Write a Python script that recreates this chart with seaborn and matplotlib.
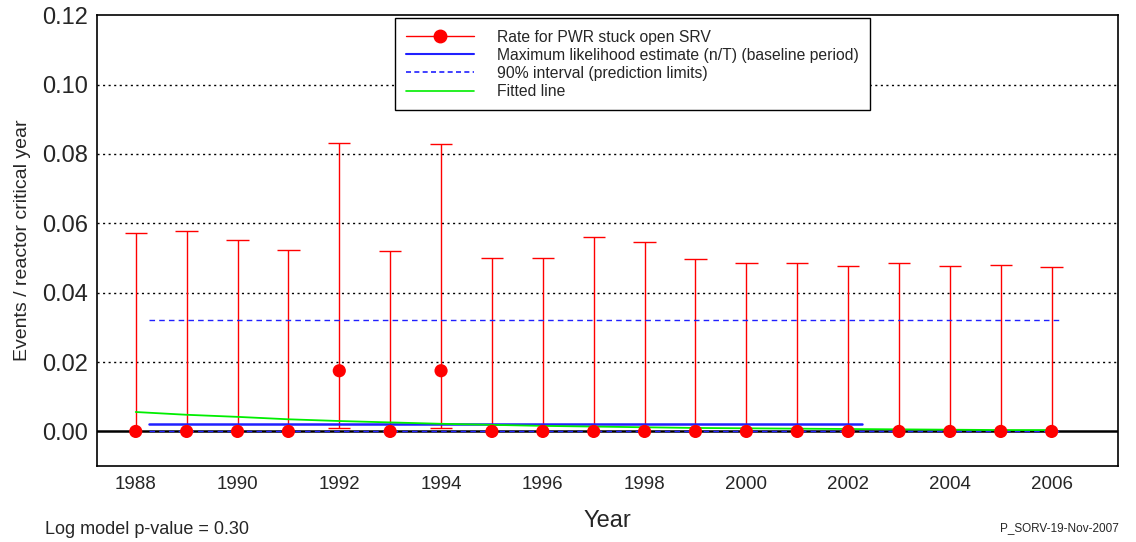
import numpy as np
import pandas as pd
import matplotlib
matplotlib.use("Agg")
import matplotlib.pyplot as plt
import seaborn as sns
from matplotlib.lines import Line2D

sns.set_style("white")
plt.rcParams['font.family'] = ['Liberation Sans', 'DejaVu Sans']

# data
years = list(range(1988, 2007))
rate = [0, 0, 0, 0, 0.0175, 0, 0.0175, 0, 0, 0, 0, 0, 0, 0, 0, 0, 0, 0, 0]
lower = [0, 0, 0, 0, 0.0011, 0, 0.0011, 0, 0, 0, 0, 0, 0, 0, 0, 0, 0, 0, 0]
upper = [0.0571, 0.0578, 0.0553, 0.0522, 0.0831, 0.0521, 0.0828, 0.0499, 0.0501,
         0.0561, 0.0545, 0.0497, 0.0485, 0.0485, 0.0477, 0.0485, 0.0477, 0.0480, 0.0475]
fitted = [0.0056, 0.0048, 0.0042, 0.0035, 0.0030, 0.0026, 0.0022, 0.0019, 0.0016,
          0.0014, 0.0012, 0.0010, 0.0009, 0.0008, 0.0007, 0.0006, 0.0005, 0.0004, 0.0004]
mle_x = [1988.27, 2002.27]
mle_y = [0.0022, 0.0022]
pred_x = [1988.27, 2006.2]
pred_upper = [0.0322, 0.0322]
pred_lower = [0.0, 0.0]

df = pd.DataFrame({"year": years, "rate": rate, "lower": lower, "upper": upper, "fitted": fitted})

fig, ax = plt.subplots(figsize=(11.36, 5.42), dpi=100)

# horizontal dotted grid
for yv in [0.02, 0.04, 0.06, 0.08, 0.10]:
    ax.axhline(yv, color='black', linestyle=(0, (1.5, 2.5)), linewidth=1, zorder=0)
ax.axhline(0, color='black', linewidth=1.8, zorder=1)

# error bars
ax.vlines(df["year"], df["lower"], df["upper"], color='red', linewidth=1, zorder=2)
cap = 0.22
ax.hlines(df["upper"], df["year"] - cap, df["year"] + cap, color='red', linewidth=1, zorder=2)
low_caps = df[df["lower"] > 0]
ax.hlines(low_caps["lower"], low_caps["year"] - cap, low_caps["year"] + cap, color='red', linewidth=1, zorder=2)

# reference lines
ax.plot(mle_x, mle_y, color='#2020ff', linewidth=1.8, zorder=3)
ax.plot(pred_x, pred_upper, color='#2020ff', linestyle=(0, (4, 3)), linewidth=1, zorder=3)
ax.plot(pred_x, pred_lower, color='#2020ff', linestyle=(0, (4, 3)), linewidth=1, zorder=3)
sns.lineplot(data=df, x="year", y="fitted", color='#00ee00', linewidth=1.3, ax=ax, zorder=3)

# points
sns.scatterplot(data=df, x="year", y="rate", color='red', s=90, edgecolor='none', ax=ax, zorder=4)

ax.set_xlim(1987.23, 2007.3)
ax.set_ylim(-0.01, 0.12)
ax.set_xticks(list(range(1988, 2007, 2)))
ax.set_yticks([0.0, 0.02, 0.04, 0.06, 0.08, 0.10, 0.12])
ax.set_yticklabels(["0.00", "0.02", "0.04", "0.06", "0.08", "0.10", "0.12"])
ax.tick_params(axis='x', direction='in', length=8, width=1, labelsize=13.5, pad=7, color='black')
ax.tick_params(axis='y', length=0, labelsize=17, pad=6)
for s in ax.spines.values():
    s.set_visible(True)
    s.set_color('black')
    s.set_linewidth(1.2)

ax.set_xlabel("Year", fontsize=17, labelpad=12)
ax.set_ylabel("Events / reactor critical year", fontsize=14, labelpad=8)

handles = [
    Line2D([], [], color='red', marker='o', markersize=9, linewidth=1),
    Line2D([], [], color='#2020ff', linewidth=1.5),
    Line2D([], [], color='#2020ff', linewidth=1.2, linestyle=(0, (3, 2))),
    Line2D([], [], color='#00ee00', linewidth=1.2),
]
labels = ["Rate for PWR stuck open SRV",
          "Maximum likelihood estimate (n/T) (baseline period)",
          "90% interval (prediction limits)",
          "Fitted line"]
leg = ax.legend(handles, labels, loc='upper left', bbox_to_anchor=(0.292, 0.993), fontsize=11.3,
                frameon=True, fancybox=False, edgecolor='black', framealpha=1,
                handlelength=4.3, handletextpad=1.5, labelspacing=0.2, borderpad=0.72,
                borderaxespad=0)
leg.get_frame().set_linewidth(1)

fig.text(0.04, 0.015, "Log model p-value = 0.30", fontsize=13)
fig.text(0.985, 0.02, "P_SORV-19-Nov-2007", fontsize=8.5, ha='right')

fig.subplots_adjust(left=0.085, right=0.984, top=0.972, bottom=0.14)
fig.savefig("out.png", dpi=100)
